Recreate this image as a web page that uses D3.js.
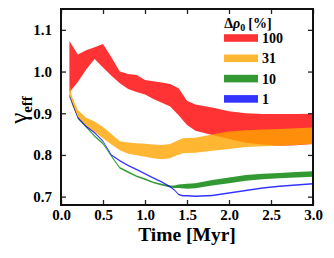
<!DOCTYPE html>
<html>
<head>
<meta charset="utf-8">
<script src="https://cdn.jsdelivr.net/npm/d3@7"></script>
<style>
  body { margin: 0; background: #fff; }
  svg text { font-family: "Liberation Serif", "DejaVu Serif", serif; font-weight: bold; fill: #000; }
</style>
</head>
<body>
<svg width="334" height="258"></svg>
<script>
// Δρ0 = 100 %
const tRed = [0.1, 0.2, 0.3, 0.4, 0.5, 0.6, 0.7, 0.8, 0.9, 1.0, 1.1, 1.2, 1.3, 1.4, 1.5, 1.6, 1.8, 2.0, 2.2, 2.4, 2.6, 2.8, 3.0]
const redHi = [1.073, 1.041, 1.051, 1.058, 1.066, 1.034, 1.0, 0.994, 0.992, 0.98, 0.977, 0.974, 0.970, 0.960, 0.930, 0.921, 0.914, 0.905, 0.900, 0.898, 0.898, 0.898, 0.899]
const redLo = [0.95, 0.975, 1.005, 1.03, 1.01, 0.99, 0.972, 0.958, 0.951, 0.945, 0.934, 0.925, 0.916, 0.895, 0.872, 0.858, 0.848, 0.838, 0.829, 0.825, 0.822, 0.823, 0.826]

// Δρ0 = 31 %
const tOrange = [0.1, 0.13, 0.2, 0.3, 0.4, 0.5, 0.6, 0.7, 0.8, 0.9, 1.0, 1.1, 1.2, 1.3, 1.35, 1.45, 1.6, 1.8, 2.0, 2.2, 2.4, 2.6, 2.8, 3.0]
const orangeHi = [0.974, 0.94, 0.908, 0.889, 0.880, 0.867, 0.850, 0.833, 0.830, 0.828, 0.827, 0.825, 0.824, 0.826, 0.831, 0.840, 0.841, 0.849, 0.856, 0.859, 0.861, 0.862, 0.864, 0.866]
const orangeLo = [0.945, 0.92, 0.889, 0.868, 0.855, 0.840, 0.825, 0.811, 0.803, 0.799, 0.796, 0.792, 0.790, 0.792, 0.797, 0.804, 0.805, 0.810, 0.814, 0.819, 0.821, 0.822, 0.824, 0.826]

// Δρ0 = 10 %
const tGreen = [0.1, 0.2, 0.3, 0.4, 0.5, 0.6, 0.7, 0.8, 0.9, 1.0, 1.1, 1.2, 1.3, 1.35, 1.4, 1.5, 1.6, 1.8, 2.0, 2.2, 2.4, 2.6, 2.8, 3.0]
const greenHi = [0.946, 0.890, 0.869, 0.847, 0.829, 0.799, 0.771, 0.761, 0.751, 0.744, 0.736, 0.731, 0.727, 0.727, 0.729, 0.731, 0.732, 0.740, 0.746, 0.752, 0.755, 0.757, 0.759, 0.761]
const greenLo = [0.942, 0.886, 0.865, 0.843, 0.825, 0.795, 0.767, 0.757, 0.747, 0.740, 0.732, 0.727, 0.722, 0.721, 0.721, 0.719, 0.720, 0.727, 0.732, 0.738, 0.742, 0.744, 0.746, 0.748]

// Δρ0 = 1 %
const tBlue = [0.1, 0.2, 0.3, 0.4, 0.5, 0.6, 0.7, 0.8, 0.9, 1.0, 1.1, 1.2, 1.3, 1.35, 1.4, 1.45, 1.5, 1.6, 1.8, 2.0, 2.2, 2.4, 2.6, 2.8, 3.0]
const blueMid = [0.940, 0.890, 0.868, 0.853, 0.833, 0.800, 0.786, 0.775, 0.765, 0.755, 0.745, 0.735, 0.724, 0.716, 0.705, 0.702, 0.702, 0.701, 0.703, 0.709, 0.715, 0.721, 0.725, 0.728, 0.731]

const legendLabels = ["100", "31", "10", "1"]
const colors = ["#ff0000", "#ffa500", "#008000", "#0000ff"]
const xTicks = [0, 0.5, 1.0, 1.5, 2.0, 2.5, 3.0]
const yTicks = [0.7, 0.8, 0.9, 1.0, 1.1]

const svg = d3.select("svg")
const mLeft = 61, mRight = 313, mTop = 9, mBottom = 205

const x = d3.scaleLinear().domain([0, 3]).range([mLeft, mRight])
const y = d3.scaleLinear().domain([0.68, 1.15]).range([mBottom, mTop])

const bands = [
	{ t: tRed, lo: redLo, hi: redHi, color: colors[0] },
	{ t: tOrange, lo: orangeLo, hi: orangeHi, color: colors[1] },
	{ t: tGreen, lo: greenLo, hi: greenHi, color: colors[2] },
	{ t: tBlue, lo: blueMid.map(v => v - 0.0018), hi: blueMid.map(v => v + 0.0018), color: colors[3] },
]

const area = d3.area()
	.x(d => x(d.t))
	.y0(d => y(d.lo))
	.y1(d => y(d.hi))

const plot = svg.append("g")
bands.forEach(b => {
	const rows = b.t.map((t, i) => ({ t: t, lo: b.lo[i], hi: b.hi[i] }))
	plot.append("path")
		.datum(rows)
		.attr("d", area)
		.attr("fill", b.color)
		.attr("fill-opacity", 0.8)
})

// axes, ticks pointing inward on all four sides
const ax = svg.append("g")
ax.append("g")
	.attr("transform", `translate(0,${mBottom})`)
	.call(d3.axisBottom(x).tickValues(xTicks).tickSizeInner(-5).tickSizeOuter(0).tickPadding(4).tickFormat(d3.format(".1f")))
ax.append("g")
	.attr("transform", `translate(0,${mTop})`)
	.call(d3.axisTop(x).tickValues(xTicks).tickSizeInner(-5).tickSizeOuter(0).tickFormat(""))
ax.append("g")
	.attr("transform", `translate(${mLeft},0)`)
	.call(d3.axisLeft(y).tickValues(yTicks).tickSizeInner(-5).tickSizeOuter(0).tickPadding(9).tickFormat(d3.format(".1f")))
ax.append("g")
	.attr("transform", `translate(${mRight},0)`)
	.call(d3.axisRight(y).tickValues(yTicks).tickSizeInner(-5).tickSizeOuter(0).tickFormat(""))
ax.selectAll(".domain").remove()
ax.selectAll(".tick line").attr("stroke", "#222").attr("stroke-width", 1.3)
ax.selectAll(".tick text")
	.style("font-family", '"Liberation Serif", serif')
	.style("font-weight", "bold")
	.style("font-size", "15px")
	.attr("fill", "#111")

svg.append("rect")
	.attr("x", mLeft).attr("y", mTop)
	.attr("width", mRight - mLeft).attr("height", mBottom - mTop)
	.attr("fill", "none").attr("stroke", "#111").attr("stroke-width", 2)

// axis titles
svg.append("text")
	.attr("x", 187).attr("y", 241)
	.attr("text-anchor", "middle")
	.style("font-size", "19.5px")
	.text("Time [Myr]")

const yl = svg.append("text")
	.attr("transform", "translate(27,110) rotate(-90)")
	.attr("text-anchor", "middle")
yl.append("tspan").style("font-size", "25px").style("font-weight", "normal").text("γ")
yl.append("tspan").attr("dy", 5).style("font-size", "15px").text("eff")

// legend
const lt = svg.append("text")
	.attr("x", 248).attr("y", 28)
	.attr("text-anchor", "middle")
	.style("font-size", "14px")
lt.append("tspan").text("Δ")
lt.append("tspan").style("font-style", "italic").text("ρ")
lt.append("tspan").attr("dy", 3).style("font-size", "10px").text("0")
lt.append("tspan").attr("dy", -3).attr("dx", 3).text("[%]")

const legend = svg.append("g")
legendLabels.forEach((lab, i) => {
	const cy = 38 + i * 20.3
	legend.append("rect")
		.attr("x", 224).attr("y", cy - 3.8)
		.attr("width", 34).attr("height", 7.6)
		.attr("fill", colors[i])
		.attr("fill-opacity", 0.8)
	legend.append("text")
		.attr("x", 262).attr("y", cy + 5)
		.style("font-size", "14px")
		.text(lab)
})
</script>
</body>
</html>
